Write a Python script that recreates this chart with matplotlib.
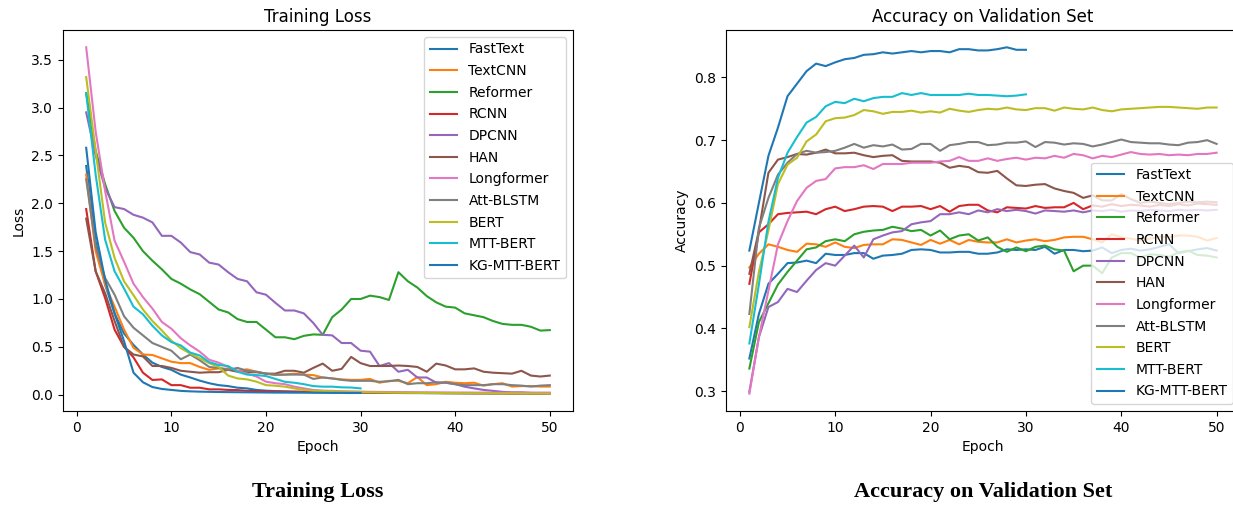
import matplotlib
matplotlib.use('Agg')
import matplotlib.pyplot as plt

models = ['FastText', 'TextCNN', 'Reformer', 'RCNN', 'DPCNN', 'HAN',
          'Longformer', 'Att-BLSTM', 'BERT', 'MTT-BERT', 'KG-MTT-BERT']

# training loss per epoch
fasttext_loss = [2.39, 1.60, 1.15, 0.85, 0.64, 0.52, 0.42, 0.335, 0.29, 0.26,
                 0.21, 0.18, 0.147, 0.12, 0.10, 0.09, 0.073, 0.066, 0.05, 0.042,
                 0.038, 0.035, 0.032, 0.03, 0.028, 0.026, 0.025, 0.024, 0.022, 0.021,
                 0.02, 0.019, 0.019, 0.018, 0.017, 0.017, 0.016, 0.016, 0.015, 0.015,
                 0.014, 0.014, 0.013, 0.013, 0.013, 0.012, 0.012, 0.012, 0.011, 0.011]
textcnn_loss = [2.30, 1.50, 1.15, 0.92, 0.68, 0.49, 0.42, 0.415, 0.38, 0.345,
                0.33, 0.33, 0.29, 0.26, 0.275, 0.27, 0.25, 0.265, 0.24, 0.22,
                0.205, 0.21, 0.22, 0.21, 0.205, 0.18, 0.17, 0.16, 0.155, 0.155,
                0.165, 0.125, 0.145, 0.145, 0.12, 0.185, 0.10, 0.11, 0.135, 0.125,
                0.12, 0.125, 0.095, 0.11, 0.12, 0.085, 0.09, 0.09, 0.085, 0.085]
reformer_loss = [3.15, 2.55, 2.20, 1.92, 1.745, 1.64, 1.50, 1.40, 1.31, 1.21,
                 1.16, 1.10, 1.05, 0.97, 0.89, 0.86, 0.79, 0.76, 0.76, 0.68,
                 0.60, 0.60, 0.58, 0.615, 0.63, 0.626, 0.81, 0.89, 1.00, 1.00,
                 1.035, 1.02, 0.99, 1.28, 1.185, 1.12, 1.03, 0.965, 0.92, 0.91,
                 0.85, 0.83, 0.81, 0.77, 0.74, 0.73, 0.73, 0.71, 0.67, 0.675]
rcnn_loss = [1.94, 1.29, 1.01, 0.68, 0.50, 0.39, 0.23, 0.154, 0.16, 0.10,
             0.10, 0.073, 0.073, 0.056, 0.056, 0.05, 0.048, 0.04, 0.038, 0.036,
             0.034, 0.032, 0.031, 0.03, 0.029, 0.028, 0.027, 0.026, 0.025, 0.024,
             0.023, 0.022, 0.021, 0.02, 0.02, 0.019, 0.018, 0.018, 0.017, 0.016,
             0.016, 0.015, 0.015, 0.014, 0.014, 0.013, 0.013, 0.012, 0.012, 0.012]
dpcnn_loss = [2.95, 2.50, 2.16, 1.96, 1.94, 1.88, 1.85, 1.80, 1.66, 1.66,
              1.59, 1.49, 1.465, 1.38, 1.36, 1.28, 1.21, 1.185, 1.07, 1.045,
              0.96, 0.88, 0.88, 0.85, 0.75, 0.626, 0.62, 0.54, 0.54, 0.46,
              0.45, 0.30, 0.33, 0.24, 0.26, 0.18, 0.18, 0.126, 0.126, 0.11,
              0.084, 0.066, 0.05, 0.04, 0.03, 0.025, 0.025, 0.02, 0.02, 0.02]
han_loss = [1.84, 1.29, 1.06, 0.77, 0.50, 0.42, 0.40, 0.30, 0.30, 0.28,
            0.25, 0.24, 0.23, 0.235, 0.235, 0.26, 0.24, 0.235, 0.235, 0.22,
            0.22, 0.25, 0.25, 0.23, 0.28, 0.325, 0.25, 0.27, 0.395, 0.33,
            0.30, 0.30, 0.30, 0.305, 0.30, 0.29, 0.24, 0.325, 0.305, 0.265,
            0.265, 0.275, 0.24, 0.23, 0.225, 0.22, 0.25, 0.20, 0.19, 0.20]
longformer_loss = [3.63, 2.75, 2.13, 1.61, 1.39, 1.16, 1.02, 0.90, 0.76, 0.69,
                   0.59, 0.515, 0.45, 0.365, 0.335, 0.29, 0.25, 0.22, 0.19, 0.136,
                   0.12, 0.11, 0.084, 0.066, 0.05, 0.042, 0.04, 0.036, 0.034, 0.032,
                   0.03, 0.029, 0.028, 0.027, 0.026, 0.025, 0.025, 0.024, 0.024, 0.023,
                   0.023, 0.022, 0.022, 0.021, 0.021, 0.02, 0.02, 0.02, 0.019, 0.019]
attblstm_loss = [2.25, 1.55, 1.22, 1.045, 0.82, 0.70, 0.62, 0.54, 0.50, 0.46,
                 0.37, 0.42, 0.36, 0.29, 0.28, 0.26, 0.28, 0.25, 0.24, 0.22,
                 0.21, 0.21, 0.21, 0.21, 0.165, 0.18, 0.17, 0.155, 0.145, 0.145,
                 0.145, 0.135, 0.14, 0.155, 0.11, 0.12, 0.12, 0.13, 0.125, 0.11,
                 0.10, 0.10, 0.10, 0.11, 0.11, 0.10, 0.095, 0.085, 0.095, 0.10]
bert_loss = [3.32, 2.55, 1.80, 1.43, 1.185, 1.04, 0.89, 0.77, 0.67, 0.565,
             0.486, 0.43, 0.38, 0.33, 0.29, 0.20, 0.17, 0.16, 0.136, 0.10,
             0.094, 0.084, 0.066, 0.05, 0.042, 0.04, 0.035, 0.032, 0.03, 0.028,
             0.026, 0.024, 0.022, 0.021, 0.02, 0.019, 0.018, 0.017, 0.016, 0.016,
             0.015, 0.015, 0.014, 0.014, 0.013, 0.013, 0.012, 0.012, 0.012, 0.011]
mttbert_loss = [3.15, 2.30, 1.62, 1.29, 1.11, 0.92, 0.84, 0.72, 0.62, 0.55,
                0.515, 0.44, 0.41, 0.34, 0.31, 0.30, 0.24, 0.21, 0.205, 0.195,
                0.165, 0.135, 0.125, 0.11, 0.09, 0.084, 0.084, 0.077, 0.075, 0.066]
kgmttbert_loss = [2.58, 1.70, 1.20, 0.85, 0.56, 0.23, 0.13, 0.08, 0.06, 0.05,
                  0.04, 0.035, 0.032, 0.03, 0.028, 0.027, 0.026, 0.025, 0.024, 0.023,
                  0.022, 0.022, 0.021, 0.021, 0.02, 0.02, 0.019, 0.019, 0.018, 0.018]

# validation accuracy per epoch
fasttext_acc = [0.352, 0.423, 0.471, 0.487, 0.504, 0.505, 0.508, 0.504, 0.519, 0.517,
                0.517, 0.52, 0.52, 0.511, 0.516, 0.517, 0.519, 0.525, 0.526, 0.525,
                0.521, 0.521, 0.522, 0.522, 0.519, 0.519, 0.521, 0.526, 0.525, 0.526,
                0.525, 0.53, 0.519, 0.525, 0.525, 0.523, 0.524, 0.529, 0.52, 0.525,
                0.527, 0.524, 0.526, 0.53, 0.534, 0.52, 0.523, 0.526, 0.528, 0.524]
textcnn_acc = [0.497, 0.519, 0.534, 0.53, 0.525, 0.522, 0.535, 0.534, 0.53, 0.537,
               0.53, 0.528, 0.533, 0.534, 0.534, 0.542, 0.541, 0.537, 0.533, 0.541,
               0.535, 0.541, 0.534, 0.541, 0.538, 0.537, 0.537, 0.542, 0.537, 0.54,
               0.542, 0.539, 0.541, 0.545, 0.546, 0.546, 0.542, 0.537, 0.55, 0.545,
               0.543, 0.54, 0.543, 0.546, 0.545, 0.548, 0.548, 0.546, 0.54, 0.544]
reformer_acc = [0.336, 0.41, 0.44, 0.47, 0.49, 0.508, 0.526, 0.529, 0.539, 0.542,
                0.539, 0.55, 0.554, 0.556, 0.557, 0.562, 0.559, 0.555, 0.557, 0.548,
                0.556, 0.542, 0.548, 0.55, 0.54, 0.545, 0.53, 0.522, 0.529, 0.523,
                0.53, 0.532, 0.526, 0.524, 0.491, 0.50, 0.50, 0.488, 0.513, 0.52,
                0.52, 0.513, 0.518, 0.517, 0.514, 0.521, 0.524, 0.517, 0.516, 0.513]
rcnn_acc = [0.471, 0.553, 0.566, 0.582, 0.584, 0.585, 0.586, 0.582, 0.59, 0.594,
            0.587, 0.59, 0.594, 0.595, 0.594, 0.587, 0.594, 0.594, 0.595, 0.59,
            0.595, 0.586, 0.595, 0.597, 0.597, 0.588, 0.585, 0.593, 0.592, 0.591,
            0.595, 0.592, 0.593, 0.593, 0.60, 0.59, 0.596, 0.594, 0.598, 0.595,
            0.597, 0.596, 0.594, 0.597, 0.595, 0.598, 0.596, 0.599, 0.598, 0.597]
dpcnn_acc = [0.299, 0.386, 0.434, 0.442, 0.463, 0.458, 0.476, 0.493, 0.504, 0.50,
             0.516, 0.532, 0.513, 0.542, 0.548, 0.553, 0.555, 0.566, 0.569, 0.571,
             0.582, 0.582, 0.585, 0.582, 0.588, 0.585, 0.59, 0.587, 0.589, 0.587,
             0.583, 0.588, 0.587, 0.586, 0.588, 0.585, 0.588, 0.587, 0.589, 0.586,
             0.588, 0.587, 0.589, 0.588, 0.587, 0.589, 0.588, 0.589, 0.588, 0.589]
han_acc = [0.487, 0.556, 0.648, 0.669, 0.673, 0.678, 0.677, 0.68, 0.685, 0.679,
           0.679, 0.68, 0.676, 0.673, 0.675, 0.676, 0.667, 0.666, 0.666, 0.666,
           0.664, 0.656, 0.659, 0.657, 0.649, 0.648, 0.651, 0.639, 0.628, 0.627,
           0.629, 0.63, 0.623, 0.619, 0.616, 0.608, 0.612, 0.604, 0.604, 0.614,
           0.606, 0.600, 0.602, 0.600, 0.598, 0.600, 0.602, 0.601, 0.602, 0.601]
longformer_acc = [0.296, 0.386, 0.46, 0.534, 0.571, 0.603, 0.624, 0.635, 0.638, 0.655,
                  0.657, 0.657, 0.66, 0.654, 0.662, 0.662, 0.662, 0.664, 0.664, 0.664,
                  0.666, 0.667, 0.673, 0.667, 0.667, 0.671, 0.667, 0.67, 0.672, 0.669,
                  0.672, 0.671, 0.675, 0.672, 0.678, 0.676, 0.671, 0.675, 0.673, 0.677,
                  0.681, 0.678, 0.677, 0.678, 0.676, 0.677, 0.676, 0.678, 0.678, 0.68]
attblstm_acc = [0.423, 0.56, 0.608, 0.645, 0.664, 0.678, 0.683, 0.68, 0.681, 0.683,
                0.688, 0.694, 0.688, 0.692, 0.69, 0.693, 0.685, 0.686, 0.694, 0.694,
                0.683, 0.692, 0.694, 0.697, 0.697, 0.692, 0.693, 0.696, 0.696, 0.698,
                0.689, 0.697, 0.696, 0.693, 0.695, 0.694, 0.69, 0.693, 0.697, 0.701,
                0.697, 0.696, 0.695, 0.695, 0.693, 0.692, 0.696, 0.697, 0.70, 0.694]
bert_acc = [0.402, 0.49, 0.556, 0.63, 0.661, 0.672, 0.698, 0.709, 0.73, 0.735,
            0.736, 0.74, 0.748, 0.746, 0.742, 0.745, 0.745, 0.747, 0.744, 0.746,
            0.744, 0.75, 0.747, 0.745, 0.748, 0.75, 0.749, 0.752, 0.749, 0.748,
            0.751, 0.751, 0.747, 0.752, 0.75, 0.749, 0.752, 0.748, 0.746, 0.749,
            0.75, 0.751, 0.752, 0.753, 0.753, 0.752, 0.751, 0.75, 0.752, 0.752]
mttbert_acc = [0.376, 0.47, 0.57, 0.64, 0.68, 0.705, 0.728, 0.737, 0.754, 0.761,
               0.759, 0.766, 0.762, 0.767, 0.769, 0.769, 0.775, 0.772, 0.775, 0.772,
               0.772, 0.772, 0.772, 0.774, 0.772, 0.772, 0.771, 0.770, 0.771, 0.773]
kgmttbert_acc = [0.524, 0.60, 0.675, 0.72, 0.77, 0.79, 0.81, 0.822, 0.818, 0.824,
                 0.829, 0.831, 0.836, 0.837, 0.84, 0.838, 0.84, 0.842, 0.84, 0.842,
                 0.842, 0.84, 0.845, 0.845, 0.843, 0.843, 0.845, 0.848, 0.844, 0.844]

loss_data = [fasttext_loss, textcnn_loss, reformer_loss, rcnn_loss, dpcnn_loss,
             han_loss, longformer_loss, attblstm_loss, bert_loss, mttbert_loss,
             kgmttbert_loss]
acc_data = [fasttext_acc, textcnn_acc, reformer_acc, rcnn_acc, dpcnn_acc,
            han_acc, longformer_acc, attblstm_acc, bert_acc, mttbert_acc,
            kgmttbert_acc]

fig = plt.figure(figsize=(12.33, 5.08), dpi=100)

# left panel: training loss
ax1 = fig.add_axes([0.0511, 0.191, 0.4136, 0.75])
for name, vals in zip(models, loss_data):
    ax1.plot(range(1, len(vals) + 1), vals, label=name)
ax1.set_xlabel('Epoch')
ax1.set_ylabel('Loss')
ax1.set_title('Training Loss')
ax1.legend(loc='upper right', labelspacing=0.55)

# right panel: validation accuracy (runs off the right edge like the original)
ax2 = fig.add_axes([0.5888, 0.191, 0.4169, 0.75])
for name, vals in zip(models, acc_data):
    ax2.plot(range(1, len(vals) + 1), vals, label=name)
ax2.set_xlabel('Epoch')
ax2.set_ylabel('Accuracy')
ax2.set_title('Accuracy on Validation Set')
ax2.legend(loc='lower right', labelspacing=0.55)

# captions under each panel
fig.text(0.2579, 0.031, 'Training Loss', ha='center', va='center',
         fontsize=16, fontweight='bold', family='Liberation Serif')
fig.text(0.7972, 0.031, 'Accuracy on Validation Set', ha='center', va='center',
         fontsize=16, fontweight='bold', family='Liberation Serif')

fig.savefig('out.png', dpi=100)
